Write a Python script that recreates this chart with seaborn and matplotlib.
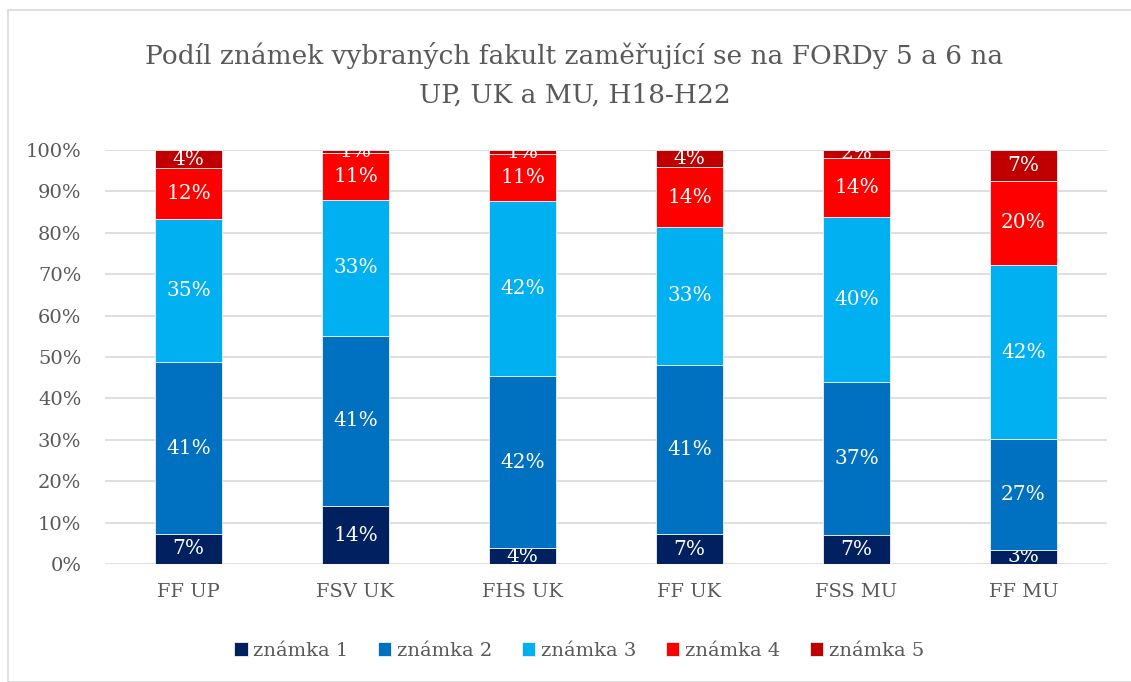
import numpy as np
import pandas as pd
import matplotlib
matplotlib.use("Agg")
import matplotlib.pyplot as plt
import seaborn as sns
from matplotlib.patches import Rectangle

sns.set_theme(style="white")
plt.rcParams['font.family'] = ['DejaVu Serif']

# Data (shares in %)
faculties = ["FF UP", "FSV UK", "FHS UK", "FF UK", "FSS MU", "FF MU"]
grades = ["známka 1", "známka 2", "známka 3", "známka 4", "známka 5"]
grade1 = [7.3, 14.0, 3.8, 7.2, 7.0, 3.4]
grade2 = [41.4, 41.1, 41.6, 40.9, 37.0, 26.8]
grade3 = [34.6, 32.8, 42.3, 33.3, 39.8, 42.0]
grade4 = [12.3, 11.4, 11.3, 14.4, 14.3, 20.4]
grade5 = [4.4, 0.7, 1.0, 4.2, 1.9, 7.4]
labels1 = ["7%", "14%", "4%", "7%", "7%", "3%"]
labels2 = ["41%", "41%", "42%", "41%", "37%", "27%"]
labels3 = ["35%", "33%", "42%", "33%", "40%", "42%"]
labels4 = ["12%", "11%", "11%", "14%", "14%", "20%"]
labels5 = ["4%", "1%", "1%", "4%", "2%", "7%"]

series = [grade1, grade2, grade3, grade4, grade5]
series_labels = [labels1, labels2, labels3, labels4, labels5]
colors = ["#002060", "#0070C0", "#00B0F0", "#FF0000", "#C00000"]

fig = plt.figure(figsize=(11.31, 6.82), dpi=100)
ax = fig.add_axes([105 / 1131, 1 - 564 / 682, 1002 / 1131, 414 / 682])

bottom = np.zeros(len(faculties))
for vals, name, col, labs in zip(series, grades, colors, series_labels):
    df = pd.DataFrame({"fakulta": faculties, "podil": np.array(vals) / 100})
    sns.barplot(data=df, x="fakulta", y="podil", bottom=bottom, color=col,
                width=0.4, label=name, edgecolor="#F2F2F2", linewidth=0.6,
                saturation=1, ax=ax, zorder=3)
    ax.bar_label(ax.containers[-1], labels=labs, label_type="center",
                 color="white", fontsize=14.5)
    bottom = bottom + np.array(vals) / 100

handles, labels = ax.get_legend_handles_labels()
if ax.get_legend() is not None:
    ax.get_legend().remove()

ax.set_ylim(0, 1)
ax.set_xlim(-0.5, 5.5)
ax.set_yticks(np.arange(0, 1.01, 0.1))
ax.set_yticklabels([f"{int(round(v * 100))}%" for v in np.arange(0, 1.01, 0.1)])
ax.yaxis.grid(True, color="#D9D9D9", linewidth=1.2, zorder=0)
ax.set_axisbelow(True)
for s in ax.spines.values():
    s.set_visible(False)
ax.tick_params(axis="both", colors="#595959", labelsize=14, length=0)
ax.tick_params(axis="y", pad=17)
ax.tick_params(axis="x", pad=14)
ax.set_xlabel("")
ax.set_ylabel("")

fig.text(0.508, 1 - 75 / 682, "Podíl známek vybraných fakult zaměřující se na FORDy 5 a 6 na\nUP, UK a MU, H18-H22",
         ha="center", va="center", fontsize=19, color="#595959", linespacing=1.7)

leg = fig.legend(handles, labels, loc="center", bbox_to_anchor=(0.512, 1 - 651 / 682),
                 ncol=5, frameon=False, fontsize=14, handlelength=0.7, handleheight=0.7,
                 handletextpad=0.3, columnspacing=1.5)
for t in leg.get_texts():
    t.set_color("#595959")

fig.patches.append(Rectangle((8 / 1131, 0), 1.2, 1 - 10 / 682, transform=fig.transFigure,
                             fill=False, edgecolor="#D9D9D9", linewidth=1.2))

fig.savefig("out.png", dpi=100)
